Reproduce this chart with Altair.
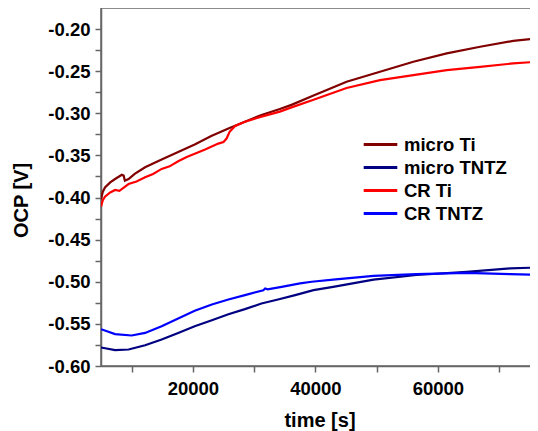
import altair as alt
import pandas as pd

series_names = ["micro Ti", "micro TNTZ", "CR Ti", "CR TNTZ"]
series_colors = ["#800000", "#000080", "#ff0000", "#0000ff"]

micro_ti_t = [5000, 5300, 5650, 6500, 7300, 8400, 8700, 8900, 9500, 10500, 12200, 14900,
              17600, 20300, 23000, 25800, 28500, 31200, 34200, 36100, 39700, 45100,
              50550, 56000, 61450, 66900, 72300, 76300]
micro_ti_v = [-0.402, -0.393, -0.388, -0.382, -0.378, -0.373, -0.374, -0.380, -0.378, -0.372,
              -0.364, -0.355, -0.346, -0.337, -0.327, -0.318, -0.310, -0.302, -0.295, -0.290,
              -0.279, -0.2626, -0.2507, -0.2388, -0.2289, -0.221, -0.214, -0.211]

cr_ti_t = [5000, 5300, 5650, 6500, 7300, 8000, 9500, 10800, 12200, 13500, 14900, 16200,
           17600, 19000, 20300, 22000, 24150, 25000, 25500, 26000, 26900, 28500, 31200,
           34200, 36100, 39700, 45100, 50550, 56000, 61450, 66900, 72300, 76300]
cr_ti_v = [-0.411, -0.403, -0.399, -0.394, -0.391, -0.392, -0.384, -0.381, -0.376, -0.372,
           -0.366, -0.363, -0.357, -0.352, -0.348, -0.343, -0.336, -0.334, -0.330, -0.322,
           -0.315, -0.310, -0.304, -0.298, -0.293, -0.284, -0.270, -0.2606, -0.2546,
           -0.2487, -0.2448, -0.2408, -0.2388]

micro_tntz_t = [5000, 7300, 9500, 12200, 14900, 17600, 20300, 23100, 25800, 28500, 31200,
                33900, 36700, 39700, 42900, 49500, 56500, 64700, 71800, 76300]
micro_tntz_v = [-0.578, -0.5812, -0.5804, -0.5753, -0.5686, -0.5607, -0.5527, -0.5456,
                -0.5385, -0.5325, -0.5258, -0.521, -0.5159, -0.510, -0.506, -0.4975,
                -0.492, -0.4882, -0.4842, -0.483]

cr_tntz_t = [5000, 7300, 10000, 12200, 14900, 17600, 20300, 23100, 25800, 28500, 31500,
             31800, 32200, 34500, 37500, 39400, 42900, 49500, 56500, 64700, 71800, 76300]
cr_tntz_v = [-0.5563, -0.5622, -0.5638, -0.5607, -0.5527, -0.5436, -0.5345, -0.527, -0.521,
             -0.5159, -0.510, -0.508, -0.509, -0.506, -0.502, -0.500, -0.4975, -0.493,
             -0.491, -0.4894, -0.4910, -0.4918]

x_ticks = [10000, 20000, 30000, 40000, 50000, 60000, 70000]
x_labels = [20000, 40000, 60000]
y_ticks = [-0.600, -0.575, -0.550, -0.525, -0.500, -0.475, -0.450, -0.425, -0.400,
           -0.375, -0.350, -0.325, -0.300, -0.275, -0.250, -0.225, -0.200]
y_labels = [-0.60, -0.55, -0.50, -0.45, -0.40, -0.35, -0.30, -0.25, -0.20]

rows = []
for name, ts, vs in [("micro Ti", micro_ti_t, micro_ti_v),
                     ("micro TNTZ", micro_tntz_t, micro_tntz_v),
                     ("CR Ti", cr_ti_t, cr_ti_v),
                     ("CR TNTZ", cr_tntz_t, cr_tntz_v)]:
    for i, (t, v) in enumerate(zip(ts, vs)):
        rows.append({"series": name, "time": t, "ocp": v, "order": i})
df = pd.DataFrame(rows)

FONT = "Liberation Sans"
x_label_expr = "indexof(" + str(x_labels) + ", datum.value) >= 0 ? format(datum.value, 'd') : ''"
y_label_expr = ("indexof(" + str([round(v * 100) for v in y_labels]) +
                ", round(datum.value * 1000) / 10) >= 0"
                " ? (datum.value < 0 ? '-' : '') + format(abs(datum.value), '.2f') : ''")

chart = alt.Chart(df).mark_line(strokeWidth=2.2, clip=True).encode(
    x=alt.X("time:Q",
            scale=alt.Scale(domain=[5000, 76350], nice=False, zero=False),
            axis=alt.Axis(title="time [s]", values=x_ticks, labelExpr=x_label_expr,
                          grid=False, tickSize=6, labelPadding=7,
                          titleY=44, titleBaseline="top")),
    y=alt.Y("ocp:Q",
            scale=alt.Scale(domain=[-0.6, -0.175], nice=False, zero=False),
            axis=alt.Axis(title="OCP [V]", values=y_ticks, labelExpr=y_label_expr,
                          grid=False, tickSize=6, labelPadding=5,
                          titleX=-70, titleY=192, titleBaseline="bottom")),
    color=alt.Color("series:N",
                    scale=alt.Scale(domain=series_names, range=series_colors),
                    sort=series_names,
                    legend=alt.Legend(title=None, orient="none", legendX=266, legendY=123,
                                      symbolType="M-1.4,0H1.4", symbolSize=576,
                                      symbolStrokeWidth=3, labelFontSize=18.5,
                                      labelFont=FONT, labelFontWeight="bold",
                                      labelColor="black", labelOffset=10, padding=0,
                                      rowPadding=0)),
    order="order:Q",
).properties(
    width=437, height=358,
    autosize=alt.AutoSizeParams(type="none"),
    padding={"left": 93, "top": 0, "right": -8, "bottom": 65},
).configure_view(
    stroke="#666666", strokeWidth=1.5
).configure_axis(
    domainColor="#666666", domainWidth=1.5, tickColor="#666666", tickWidth=1.5,
    labelFont=FONT, labelFontSize=18.5, labelFontWeight="bold", labelColor="black",
    titleFont=FONT, titleFontSize=20, titleFontWeight="bold", titleColor="black",
)

chart.save("out.html", embed_options={"renderer": "svg", "actions": False})
